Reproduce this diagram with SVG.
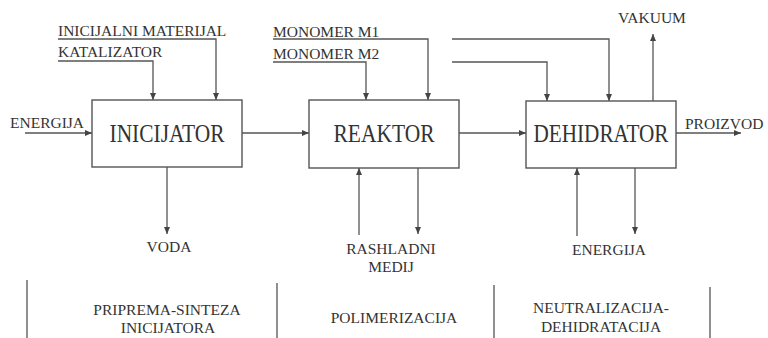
<svg xmlns="http://www.w3.org/2000/svg" width="768" height="338" viewBox="0 0 768 338">
<style>
.bg{fill:#ffffff}
.box{fill:#ffffff;stroke:#555;stroke-width:1.4}
.ln{fill:none;stroke:#555;stroke-width:1.3}
.ar{marker-end:url(#ah)}
.t{font-family:"Liberation Serif","Times New Roman",serif;font-size:15.5px;fill:#333}
.tm{text-anchor:middle}
.big{font-family:"Liberation Serif","Times New Roman",serif;font-size:25px;fill:#333;text-anchor:middle}
</style>
<defs>
<marker id="ah" markerWidth="7" markerHeight="6" refX="7" refY="3" orient="auto" markerUnits="userSpaceOnUse">
<path d="M0,0 L7,3 L0,6 z" fill="#444"/>
</marker>
</defs>
<rect class="bg" x="0" y="0" width="768" height="338"/>

<g id="connectors">
<!-- ENERGIJA into INICIJATOR -->
<path class="ln ar" d="M25,133 H92"/>
<!-- INICIJALNI MATERIJAL -->
<path class="ln ar" d="M58,39 H216 V100"/>
<!-- KATALIZATOR -->
<path class="ln ar" d="M58,61 H153 V100"/>
<!-- INICIJATOR -> REAKTOR -->
<path class="ln ar" d="M242,133 H309"/>
<!-- VODA -->
<path class="ln ar" d="M167,167 V234"/>
<!-- MONOMER M1 -->
<path class="ln ar" d="M273,39 H428 V100"/>
<!-- MONOMER M2 -->
<path class="ln ar" d="M273,62 H366 V100"/>
<!-- to DEHIDRATOR -->
<path class="ln ar" d="M452,39 H609 V101"/>
<path class="ln ar" d="M452,62 H547 V101"/>
<!-- REAKTOR -> DEHIDRATOR -->
<path class="ln ar" d="M459,133 H526"/>
<!-- RASHLADNI MEDIJ -->
<path class="ln ar" d="M359,235 V168"/>
<path class="ln ar" d="M418,168 V234"/>
<!-- VAKUUM -->
<path class="ln ar" d="M653,101 V34"/>
<!-- PROIZVOD -->
<path class="ln ar" d="M676,133 H741"/>
<!-- ENERGIJA at DEHIDRATOR -->
<path class="ln ar" d="M577,236 V168"/>
<path class="ln ar" d="M635,168 V234"/>
</g>

<g id="inicijator">
<rect class="box" x="92" y="100" width="150" height="67"/>
<text class="big" x="167" y="142" textLength="115" lengthAdjust="spacingAndGlyphs">INICIJATOR</text>
</g>
<g id="reaktor">
<rect class="box" x="309" y="100" width="150" height="68"/>
<text class="big" x="384" y="142" textLength="101" lengthAdjust="spacingAndGlyphs">REAKTOR</text>
</g>
<g id="dehidrator">
<rect class="box" x="526" y="101" width="150" height="67"/>
<text class="big" x="601" y="142" textLength="135" lengthAdjust="spacingAndGlyphs">DEHIDRATOR</text>
</g>

<g id="labels">
<text class="t" x="10" y="128">ENERGIJA</text>
<text class="t" x="58" y="36">INICIJALNI MATERIJAL</text>
<text class="t" x="58" y="57">KATALIZATOR</text>
<text class="t" x="273" y="37">MONOMER M1</text>
<text class="t" x="273" y="59">MONOMER M2</text>
<text class="t tm" x="652" y="23">VAKUUM</text>
<text class="t" x="685" y="129">PROIZVOD</text>
<text class="t tm" x="169" y="252">VODA</text>
<text class="t tm" x="391" y="254">RASHLADNI</text>
<text class="t tm" x="391" y="272">MEDIJ</text>
<text class="t tm" x="609" y="255">ENERGIJA</text>
</g>

<g id="phases">
<path class="ln" d="M27,280 V338 M277,283 V338 M494,285 V338 M710,287 V338"/>
<text class="t tm" x="167" y="315">PRIPREMA-SINTEZA</text>
<text class="t tm" x="168" y="333">INICIJATORA</text>
<text class="t tm" x="394" y="323">POLIMERIZACIJA</text>
<text class="t tm" x="601" y="313">NEUTRALIZACIJA-</text>
<text class="t tm" x="601" y="332">DEHIDRATACIJA</text>
</g>
</svg>
